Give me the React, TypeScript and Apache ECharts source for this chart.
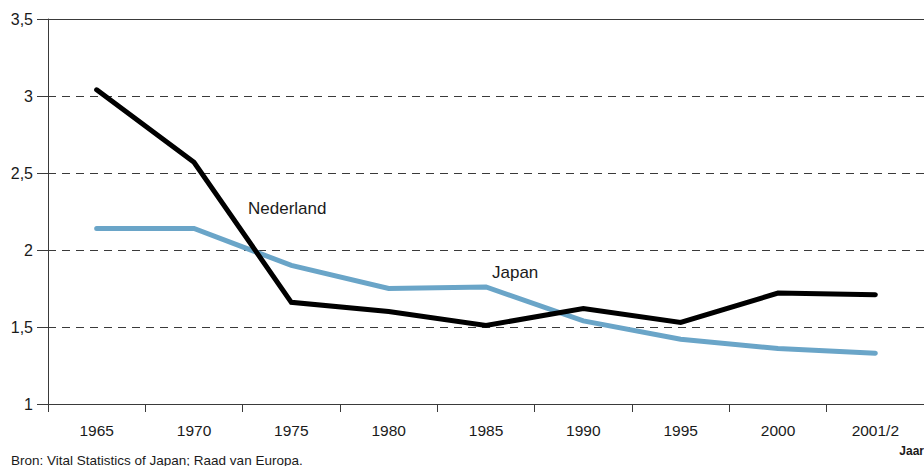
import React, { useEffect, useRef } from "react";
import * as echarts from "echarts";

const categories = ["1965", "1970", "1975", "1980", "1985", "1990", "1995", "2000", "2001/2"];
const nederland = [3.04, 2.57, 1.66, 1.6, 1.51, 1.62, 1.53, 1.72, 1.71];
const japan = [2.14, 2.14, 1.9, 1.75, 1.76, 1.54, 1.42, 1.36, 1.33];
const yTicks = [1, 1.5, 2, 2.5, 3, 3.5];

const FONT = "'Liberation Sans', Arial, sans-serif";

export default function App() {
  const ref = useRef<HTMLDivElement>(null);
  useEffect(() => {
    const chart = echarts.init(ref.current!, null, { renderer: "svg" });
    chart.setOption({
      animation: false,
      backgroundColor: "#ffffff",
      textStyle: { fontFamily: FONT },
      grid: { left: 48, right: 0, top: 19, bottom: 62 },
      xAxis: [
        {
          type: "category",
          data: categories,
          boundaryGap: true,
          axisLine: { lineStyle: { color: "#3a3a3a", width: 1 } },
          axisTick: { show: true, length: 8, inside: false, lineStyle: { color: "#3a3a3a" } },
          axisLabel: { color: "#1a1a1a", fontSize: 15.5, margin: 18, fontFamily: FONT },
          splitLine: { show: false },
        },
        {
          type: "category",
          data: categories,
          position: "top",
          axisLine: { show: true, lineStyle: { color: "#3a3a3a", width: 1 } },
          axisTick: { show: false },
          axisLabel: { show: false },
        },
      ],
      yAxis: {
        type: "value",
        min: 1,
        max: 3.5,
        interval: 0.5,
        axisLine: { show: true, lineStyle: { color: "#3a3a3a", width: 1 } },
        axisTick: { show: true, length: 11, lineStyle: { color: "#3a3a3a" } },
        axisLabel: {
          color: "#1a1a1a",
          fontSize: 16,
          margin: 15,
          fontFamily: FONT,
          formatter: (v: number) => (yTicks.includes(v) ? String(v).replace(".", ",") : ""),
        },
        splitLine: {
          show: true,
          lineStyle: { color: "#3a3a3a", type: [8, 6], width: 1 },
        },
      },
      series: [
        {
          name: "Japan",
          type: "line",
          data: japan,
          symbol: "none",
          lineStyle: { color: "#6aa5c8", width: 5, cap: "round", join: "miter" },
          z: 3,
        },
        {
          name: "Nederland",
          type: "line",
          data: nederland,
          symbol: "none",
          lineStyle: { color: "#000000", width: 5, cap: "round", join: "miter" },
          z: 4,
        },
      ],
      graphic: [
        {
          type: "text",
          left: 248,
          top: 200,
          style: { text: "Nederland", font: `17px ${FONT}`, fill: "#1a1a1a" },
        },
        {
          type: "text",
          left: 492,
          top: 264,
          style: { text: "Japan", font: `17px ${FONT}`, fill: "#1a1a1a" },
        },
        {
          type: "text",
          right: 0,
          top: 445,
          style: { text: "Jaar", font: `bold 12px ${FONT}`, fill: "#1a1a1a" },
        },
        {
          type: "text",
          left: 11,
          top: 453,
          style: { text: "Bron: Vital Statistics of Japan; Raad van Europa.", font: `13.5px ${FONT}`, fill: "#1a1a1a" },
        },
      ],
    });
    return () => chart.dispose();
  }, []);
  return <div ref={ref} style={{ width: 924, height: 466, position: "absolute", left: 0, top: 0 }} />;
}
